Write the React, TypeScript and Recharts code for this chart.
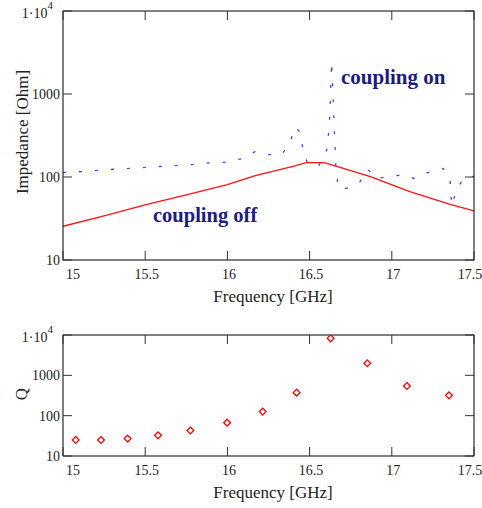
import {
  ComposedChart,
  Line,
  Scatter,
  ScatterChart,
  XAxis,
  YAxis
} from 'recharts';

// impedance, coupling off (red, solid)
const offFreq = [15.0, 15.25, 15.5, 15.75, 16.0, 16.17, 16.3, 16.4, 16.48, 16.59, 16.67, 16.87, 17.11, 17.35, 17.5];
const offZ = [25.5, 34, 46, 61, 81, 104, 120, 134, 149, 149, 133, 101, 66.5, 47, 39];

// impedance, coupling on (blue, dashed)
const onFreq = [
  15.0, 15.11, 15.225, 15.336, 15.448, 15.56, 15.67, 15.78, 15.884, 15.996,
  16.097, 16.168, 16.249, 16.33, 16.38, 16.41, 16.44, 16.458, 16.486, 16.553,
  16.604, 16.62, 16.634, 16.66, 16.675, 16.726, 16.807, 16.853, 16.908, 16.999,
  17.084, 17.135, 17.218, 17.313, 17.354, 17.364, 17.395, 17.435, 17.5
];
const onZ = [
  113, 116, 121, 125, 128, 133, 137, 141, 148, 151,
  168, 202, 186, 186, 255, 400, 352, 225, 149, 133,
  211, 404, 2460, 127, 73, 73, 88, 124, 96, 103,
  106, 96, 113, 127, 96, 45, 70, 96, 102
];

// quality factor
const qFreq = [15.077, 15.231, 15.393, 15.578, 15.775, 15.998, 16.215, 16.421, 16.628, 16.851, 17.092, 17.348];
const qVal = [25, 25, 27, 32.5, 43, 67, 126, 372, 8280, 1990, 545, 319];

const freqTicks = [15, 15.5, 16, 16.5, 17, 17.5];
const logTicks = [10, 100, 1000, 10000];

const offData = offFreq.map((f, i) => ({ f, z: offZ[i] }));
const onData = onFreq.map((f, i) => ({ f, z: onZ[i] }));
const qData = qFreq.map((f, i) => ({ f, q: qVal[i] }));

const FONT = '"Liberation Serif", "Times New Roman", serif';
const TICK = '#333';
const NAVY = '#1c1c80';

function BottomTick(props: any) {
  const { x, y, payload } = props;
  const v = payload.value;
  let anchor: 'start' | 'middle' | 'end' = 'middle';
  let tx = x + 1.5;
  if (v === 15) {
    anchor = 'start';
    tx = x + 3;
  } else if (v === 17.5) {
    tx = x - 4;
  }
  return (
    <g>
      <line x1={x} y1={y} x2={x} y2={y - 9} stroke={TICK} />
      <text x={tx} y={y + 19} textAnchor={anchor} fontSize={14} fontFamily={FONT} fill="#222">
        {String(v)}
      </text>
    </g>
  );
}

function TopTick(props: any) {
  const { x, y } = props;
  return <line x1={x} y1={y} x2={x} y2={y + 9} stroke={TICK} />;
}

function LeftTick(props: any) {
  const { x, y, payload } = props;
  const v = payload.value;
  return (
    <g>
      <line x1={x} y1={y} x2={x + 9} y2={y} stroke={TICK} />
      {v === 10000 ? (
        <text x={x - 10} y={y + 7} textAnchor="end" fontSize={14} fontFamily={FONT} fill="#222">
          1·10
          <tspan dy={-9} fontSize={11}>
            4
          </tspan>
        </text>
      ) : (
        <text x={x - 3} y={y + 5} textAnchor="end" fontSize={14} fontFamily={FONT} fill="#222">
          {String(v)}
        </text>
      )}
    </g>
  );
}

function RightTick(props: any) {
  const { x, y } = props;
  return <line x1={x} y1={y} x2={x - 9} y2={y} stroke={TICK} />;
}

function Diamond(props: any) {
  const { cx, cy } = props;
  const r = 3.4;
  return (
    <path
      d={`M${cx},${cy - r} L${cx + r},${cy} L${cx},${cy + r} L${cx - r},${cy} Z`}
      fill="none"
      stroke="#ff0000"
      strokeWidth={1.3}
    />
  );
}

const axisLine = { stroke: '#000', strokeWidth: 1 };

// shared axis settings; the axes are 1px thick so the plot box sits at the margins
const xCommon = {
  dataKey: 'f',
  type: 'number' as const,
  domain: [15, 17.5],
  ticks: freqTicks,
  interval: 0 as const,
  allowDataOverflow: true,
  height: 1,
  tickSize: 0,
  tickMargin: 0,
  tickLine: false,
  axisLine
};

const yCommon = {
  type: 'number' as const,
  scale: 'log' as const,
  domain: [10, 10000],
  ticks: logTicks,
  interval: 0 as const,
  allowDataOverflow: true,
  width: 1,
  tickSize: 0,
  tickMargin: 0,
  tickLine: false,
  axisLine
};

export default function App() {
  return (
    <div style={{ position: 'absolute', left: 0, top: 0, width: 482, height: 508, background: '#fff' }}>
      <div style={{ position: 'absolute', left: 0, top: 0 }}>
        <ComposedChart width={482} height={300} margin={{ top: 10, right: 7, bottom: 39, left: 62 }}>
          <XAxis xAxisId="b" {...xCommon} tick={<BottomTick />} />
          <XAxis xAxisId="t" orientation="top" {...xCommon} tick={<TopTick />} />
          <YAxis yAxisId="l" {...yCommon} tick={<LeftTick />} />
          <YAxis yAxisId="r" orientation="right" {...yCommon} tick={<RightTick />} />
          <Line
            xAxisId="b"
            yAxisId="l"
            data={onData}
            dataKey="z"
            type="linear"
            stroke="#2f4cf5"
            strokeWidth={1.3}
            strokeDasharray="3 13"
            dot={false}
            activeDot={false}
            isAnimationActive={false}
          />
          <Line
            xAxisId="b"
            yAxisId="l"
            data={offData}
            dataKey="z"
            type="linear"
            stroke="#ff1010"
            strokeWidth={1.3}
            dot={false}
            activeDot={false}
            isAnimationActive={false}
          />
        </ComposedChart>
      </div>

      <div style={{ position: 'absolute', left: 0, top: 300 }}>
        <ScatterChart width={482} height={208} margin={{ top: 34, right: 7, bottom: 51, left: 62 }}>
          <XAxis xAxisId="b" {...xCommon} tick={<BottomTick />} />
          <XAxis xAxisId="t" orientation="top" {...xCommon} tick={<TopTick />} />
          <YAxis yAxisId="l" dataKey="q" {...yCommon} tick={<LeftTick />} />
          <YAxis yAxisId="r" orientation="right" dataKey="q" {...yCommon} tick={<RightTick />} />
          <Scatter
            xAxisId="b"
            yAxisId="l"
            data={qData}
            dataKey="q"
            shape={<Diamond />}
            isAnimationActive={false}
          />
        </ScatterChart>
      </div>

      {/* axis titles and annotations */}
      <svg
        width={482}
        height={508}
        style={{ position: 'absolute', left: 0, top: 0, pointerEvents: 'none' }}
        fontFamily={FONT}
      >
        <text transform="translate(28,132) rotate(-90)" textAnchor="middle" fontSize={17} fill="#222">
          Impedance [Ohm]
        </text>
        <text x={273} y={302} textAnchor="middle" fontSize={17} fill="#222">
          Frequency [GHz]
        </text>
        <text x={341} y={84} fontSize={21} fontWeight="bold" fill={NAVY}>
          coupling on
        </text>
        <text x={153} y={222} fontSize={20.5} fontWeight="bold" fill={NAVY}>
          coupling off
        </text>
        <text transform="translate(27,394) rotate(-90)" textAnchor="middle" fontSize={17} fill="#222">
          Q
        </text>
        <text x={273} y={498} textAnchor="middle" fontSize={17} fill="#222">
          Frequency [GHz]
        </text>
      </svg>
    </div>
  );
}
